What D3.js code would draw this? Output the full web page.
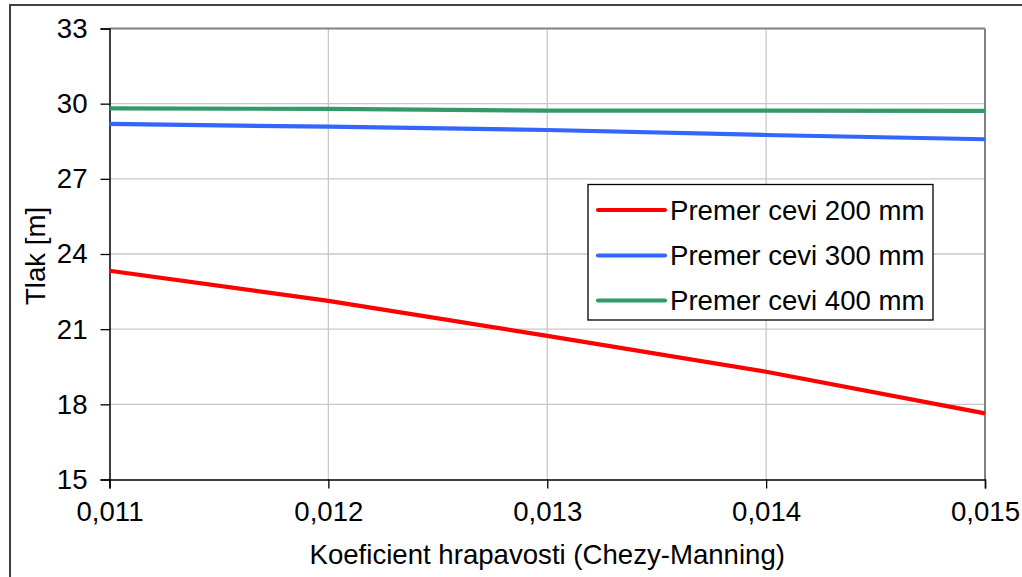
<!DOCTYPE html>
<html>
<head>
<meta charset="utf-8">
<script src="https://cdn.jsdelivr.net/npm/d3@7"></script>
<style>
  html, body { margin: 0; padding: 0; background: #fff; }
  svg { display: block; font-family: "Liberation Sans", Arial, sans-serif; }
</style>
</head>
<body>
<svg id="chart" width="1022" height="577"></svg>
<script>
// Data
const xValues = [0.011, 0.012, 0.013, 0.014, 0.015];
const seriesNames = ["Premer cevi 200 mm", "Premer cevi 300 mm", "Premer cevi 400 mm"];
const series200 = [23.33, 22.13, 20.73, 19.30, 17.64];
const series300 = [29.19, 29.08, 28.95, 28.75, 28.58];
const series400 = [29.81, 29.79, 29.72, 29.72, 29.71];
const seriesColors = ["#ff0000", "#3366ff", "#339966"];
const yTicks = [15, 18, 21, 24, 27, 30, 33];
const xTicks = [0.011, 0.012, 0.013, 0.014, 0.015];
const xTitle = "Koeficient hrapavosti (Chezy-Manning)";
const yTitle = "Tlak [m]";

const svg = d3.select("#chart");
const fontSize = 27.6;

// Outer border
svg.append("rect").attr("x", 10).attr("y", 5).attr("width", 1100).attr("height", 700)
  .attr("fill", "none").attr("stroke", "#404040").attr("stroke-width", 2);

const plot = { left: 109.5, right: 985, top: 28.5, bottom: 479.5 };
const x = d3.scaleLinear().domain([0.011, 0.015]).range([plot.left, plot.right]);
const y = d3.scaleLinear().domain([15, 33]).range([plot.bottom, plot.top]);

// Gridlines
const grid = svg.append("g");
grid.selectAll("line.h").data(yTicks.filter(t => t > 15 && t < 33)).enter().append("line")
  .attr("x1", plot.left).attr("x2", plot.right)
  .attr("y1", d => y(d)).attr("y2", d => y(d))
  .attr("stroke", "#c8c8c8").attr("stroke-width", 1.3);
grid.selectAll("line.v").data(xTicks.filter((t, i) => i > 0 && i < xTicks.length - 1)).enter().append("line")
  .attr("y1", plot.top).attr("y2", plot.bottom)
  .attr("x1", d => x(d)).attr("x2", d => x(d))
  .attr("stroke", "#c8c8c8").attr("stroke-width", 1.3);

// Top & right frame (gray)
svg.append("line").attr("x1", plot.left).attr("x2", plot.right).attr("y1", plot.top).attr("y2", plot.top)
  .attr("stroke", "#808080").attr("stroke-width", 2);
svg.append("line").attr("x1", plot.right).attr("x2", plot.right).attr("y1", plot.top).attr("y2", plot.bottom)
  .attr("stroke", "#808080").attr("stroke-width", 2);

// Axes
const yAxis = d3.axisLeft(y).tickValues(yTicks).tickSize(9).tickPadding(13).tickFormat(d3.format("d"));
const gy = svg.append("g").attr("transform", `translate(${plot.left},0)`).call(yAxis);
gy.select(".domain").attr("stroke", "#000").attr("stroke-width", 1.5);
gy.selectAll(".tick line").attr("stroke", "#000").attr("stroke-width", 1.3);
gy.selectAll(".tick text").attr("font-size", fontSize).attr("fill", "#000")
  .attr("font-family", '"Liberation Sans", Arial, sans-serif');

const fmtX = d => d3.format(".3f")(d).replace(".", ",");
const xAxis = d3.axisBottom(x).tickValues(xTicks).tickSize(9).tickPadding(13).tickFormat(fmtX);
const gx = svg.append("g").attr("transform", `translate(0,${plot.bottom})`).call(xAxis);
gx.select(".domain").attr("stroke", "#000").attr("stroke-width", 1.5);
gx.selectAll(".tick line").attr("stroke", "#000").attr("stroke-width", 1.3);
gx.selectAll(".tick text").attr("font-size", fontSize).attr("fill", "#000")
  .attr("font-family", '"Liberation Sans", Arial, sans-serif');

// Lines
const allSeries = [series200, series300, series400];
const line = d3.line().x((d, i) => x(xValues[i])).y(d => y(d));
svg.append("g").selectAll("path").data(allSeries).enter().append("path")
  .attr("d", d => line(d))
  .attr("fill", "none")
  .attr("stroke", (d, i) => seriesColors[i])
  .attr("stroke-width", 4.2)
  .attr("stroke-linejoin", "round");

// Axis titles
svg.append("text").attr("x", (plot.left + plot.right) / 2).attr("y", 564)
  .attr("text-anchor", "middle").attr("font-size", fontSize).attr("fill", "#000").text(xTitle);
svg.append("text").attr("transform", "translate(45,256) rotate(-90)")
  .attr("text-anchor", "middle").attr("font-size", fontSize).attr("fill", "#000").text(yTitle);

// Legend
const legend = svg.append("g");
legend.append("rect").attr("x", 588).attr("y", 184.5).attr("width", 345).attr("height", 135.5)
  .attr("fill", "#fff").attr("stroke", "#000").attr("stroke-width", 1.3);
const legendRows = [210, 255.5, 300.5];
seriesNames.forEach((name, i) => {
  legend.append("line").attr("x1", 598).attr("x2", 665)
    .attr("y1", legendRows[i]).attr("y2", legendRows[i])
    .attr("stroke", seriesColors[i]).attr("stroke-width", 4.2).attr("stroke-linecap", "round");
  legend.append("text").attr("x", 670).attr("y", legendRows[i] + 9.5)
    .attr("font-size", fontSize).attr("fill", "#000").text(name);
});
</script>
</body>
</html>
